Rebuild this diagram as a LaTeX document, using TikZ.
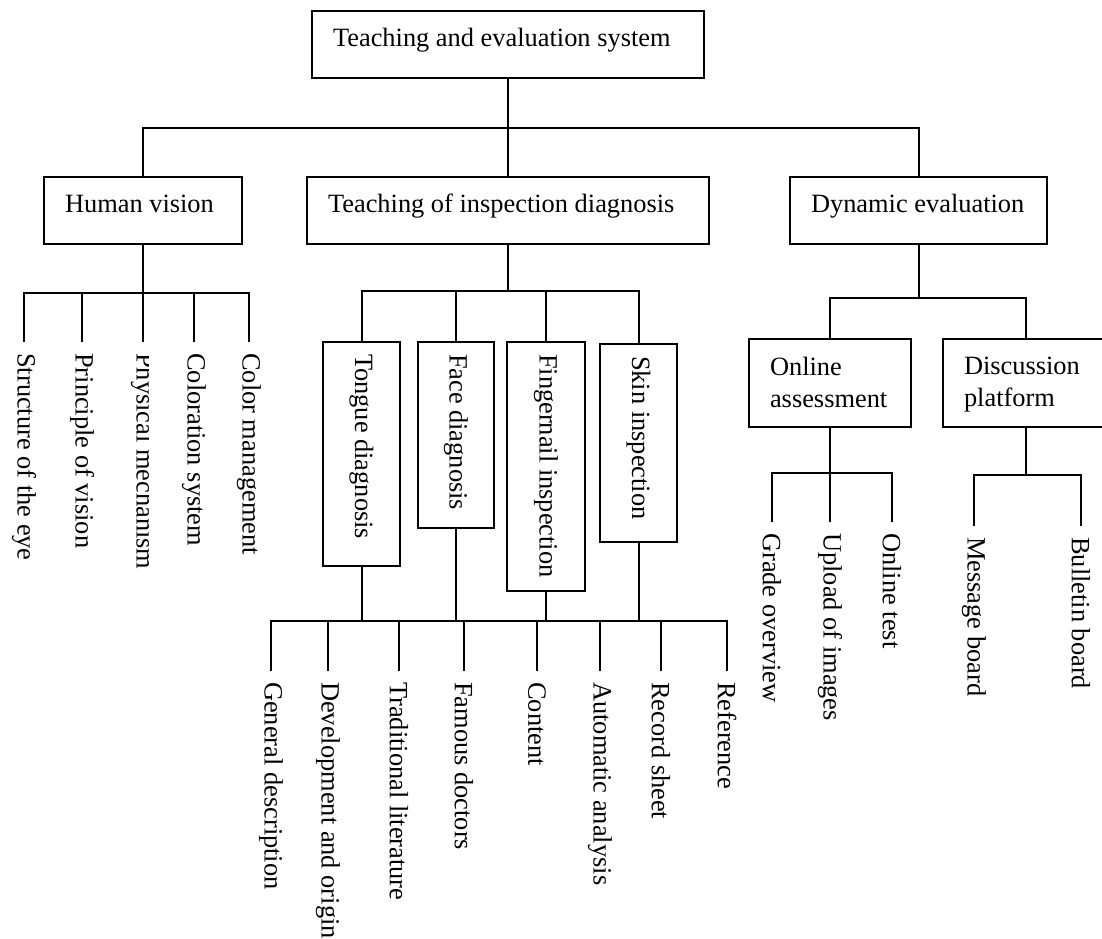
\documentclass[tikz,border=0pt]{standalone}
\usepackage{fontspec}
\setmainfont{Liberation Serif}
% invisible rule that fixes the vertical placement of one-line box texts
\newcommand\tstrut{\rule[-16pt]{0pt}{36pt}}
\begin{document}
\begin{tikzpicture}[x=1pt, y=-1pt,
  every node/.style={font=\fontsize{26.4}{32}\selectfont},
  link/.style={line width=2pt},
  hbox/.style={draw, line width=2pt, inner xsep=21pt, inner ysep=0pt, minimum height=67pt},
  vbox/.style={draw, line width=2pt, rotate=-90, anchor=west, inner xsep=12pt, inner ysep=0pt},
  leaf/.style={rotate=-90, anchor=west, inner xsep=11pt, inner ysep=1pt}]
\fill[white] (0,0) rectangle (1102,938);
\useasboundingbox (0,0) rectangle (1102,938);

% ---- root and first level ----
\node[hbox] (top) at (508,44.5) {\makebox[350pt][l]{\tstrut Teaching and evaluation system}};
\node[hbox] (hv)  at (143,210)   {\makebox[156pt][l]{\tstrut Human vision}};
\node[hbox] (tid) at (508,210.5) {\makebox[360pt][l]{\tstrut Teaching of inspection diagnosis}};
\node[hbox] (dyn) at (918.5,210.5) {\makebox[215pt][l]{\tstrut Dynamic evaluation}};

\coordinate (j0) at (508,128);
\draw[link] (top.south) -- (j0);
\draw[link] (hv.north) |- (j0) -| (dyn.north);
\draw[link] (j0) -- (tid.north);

% ---- human vision ----
\coordinate (jh) at (143,293);
\node[leaf] (h1) at (24,342)  {Structure of the eye};
\node[leaf] (h2) at (82,342)  {Principle of vision};
\begin{scope}
  \clip (100,330) rectangle (148.5,700);
  \node[leaf] (h3) at (143,342) {Physical mechanism};
\end{scope}
\node[leaf] (h4) at (194,342) {Coloration system};
\node[leaf] (h5) at (249,342) {Color management};
\draw[link] (hv.south) -- (jh);
\draw[link] (h1.west) |- (jh) -| (h5.west);
\draw[link] (jh -| h2.west) -- (h2.west);
\draw[link] (jh) -- (h3.west);
\draw[link] (jh -| h4.west) -- (h4.west);

% ---- inspection diagnosis ----
\coordinate (jt) at (508,291);
\node[vbox, minimum height=77pt] (tongue) at (361.5,341) {\makebox[200pt][l]{Tongue diagnosis}};
\node[vbox, minimum height=76pt] (face)   at (456,341)   {\makebox[162pt][l]{Face diagnosis}};
\node[vbox, minimum height=78pt] (nail)   at (546,341)   {\makebox[225pt][l]{Fingernail inspection}};
\node[vbox, minimum height=77pt] (skin)   at (638.5,343) {\makebox[174pt][l]{Skin inspection}};
\draw[link] (tid.south) -- (jt);
\draw[link] (tongue.west) |- (jt) -| (skin.west);
\draw[link] (jt -| face.west) -- (face.west);
\draw[link] (jt -| nail.west) -- (nail.west);

\coordinate (jb) at (500,621);
\node[leaf] (b1) at (271,671) {General description};
\node[leaf] (b2) at (328,671) {Development and origin};
\node[leaf] (b3) at (399,671) {Traditional literature};
\node[leaf] (b4) at (464,671) {Famous doctors};
\node[leaf] (b5) at (537,671) {Content};
\node[leaf] (b6) at (600,671) {Automatic analysis};
\node[leaf] (b7) at (661,671) {Record sheet};
\node[leaf] (b8) at (727,671) {Reference};
\draw[link] (tongue.east) -- (tongue.east |- jb);
\draw[link] (face.east) -- (face.east |- jb);
\draw[link] (nail.east) -- (nail.east |- jb);
\draw[link] (skin.east) -- (skin.east |- jb);
\draw[link] (b1.west) |- (jb) -| (b8.west);
\foreach \b in {b2,b3,b4,b5,b6,b7}
  \draw[link] (jb -| \b.west) -- (\b.west);

% ---- dynamic evaluation ----
\coordinate (jd) at (918.5,298);
\node[hbox, minimum height=88pt, text width=120pt, align=left] (online) at (830,383)
  {\rule{0pt}{20pt}Online\\assessment\rule[-4pt]{0pt}{4pt}};
\node[hbox, minimum height=88pt, text width=124pt, align=left] (disc) at (1026,383)
  {\rule{0pt}{20pt}Discussion\\platform\rule[-4pt]{0pt}{4pt}};
\draw[link] (dyn.south) -- (jd);
\draw[link] (online.north) |- (jd) -| (disc.north);

\coordinate (jo) at (830,473);
\node[leaf] (o1) at (772,522) {Grade overview};
\node[leaf] (o2) at (830,522) {Upload of images};
\node[leaf] (o3) at (892,522) {Online test};
\draw[link] (online.south) -- (jo);
\draw[link] (o1.west) |- (jo) -| (o3.west);
\draw[link] (jo) -- (o2.west);

\coordinate (jq) at (1026,475);
\node[leaf] (q1) at (974,526)  {Message board};
\node[leaf] (q2) at (1081,526) {Bulletin board};
\draw[link] (disc.south) -- (jq);
\draw[link] (q1.west) |- (jq) -| (q2.west);
\end{tikzpicture}
\end{document}
